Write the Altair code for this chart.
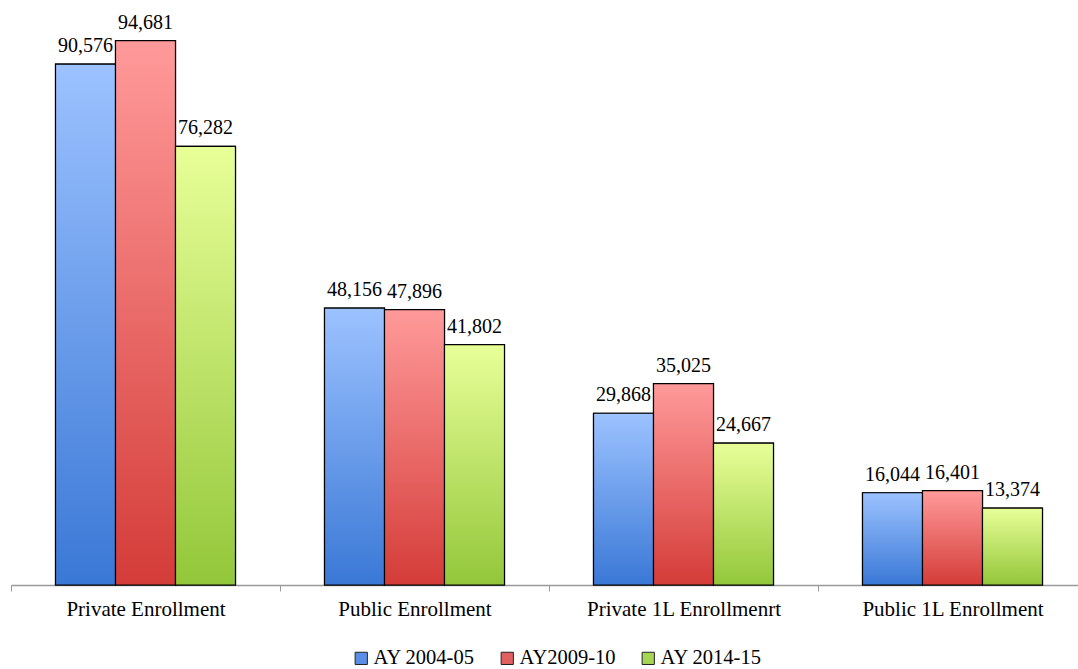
import altair as alt
import pandas as pd

categories = ["Private Enrollment", "Public Enrollment", "Private 1L Enrollmenrt", "Public 1L Enrollment"]
series = ["AY 2004-05", "AY2009-10", "AY 2014-15"]
values_2004 = [90576, 48156, 29868, 16044]
values_2009 = [94681, 47896, 35025, 16401]
values_2014 = [76282, 41802, 24667, 13374]

legend_colors = ["#5b8ee6", "#e06060", "#a6d455"]
grad_top = ["#9cc2ff", "#ff9a9a", "#e8ff98"]
grad_bottom = ["#3a78d6", "#d43c38", "#93c73a"]

rows = []
for s, vals in zip(series, [values_2004, values_2009, values_2014]):
    for c, v in zip(categories, vals):
        rows.append({"category": c, "series": s, "value": v})
df = pd.DataFrame(rows)

FONT = "Liberation Serif"

x_enc = alt.X(
    "category:N",
    sort=categories,
    scale=alt.Scale(domain=categories, range=[0, 1076], paddingInner=0, paddingOuter=0),
    axis=alt.Axis(
        title=None, tickBand="extent", labelAngle=0, labelFont=FONT, labelFontSize=21,
        labelColor="black", domainColor="#9a9a9a", tickColor="#9a9a9a", tickSize=6,
        labelPadding=7, grid=False, domainWidth=1.5, labelLimit=400,
    ),
)
xo_enc = alt.XOffset(
    "series:N",
    scale=alt.Scale(domain=series, range=[0, 269], paddingInner=0, paddingOuter=0.742),
)
y_enc = alt.Y("value:Q", scale=alt.Scale(domain=[0, 100000], nice=False), axis=None)

base = alt.Chart(df).encode(x=x_enc, xOffset=xo_enc, y=y_enc)

legend_bars = base.mark_bar(stroke="black", strokeWidth=1.2).encode(
    color=alt.Color(
        "series:N",
        scale=alt.Scale(domain=series, range=legend_colors),
        legend=alt.Legend(
            title=None, orient="none", legendX=340, legendY=638, direction="horizontal",
            symbolType="square", symbolSize=150, symbolStrokeColor="#222",
            symbolStrokeWidth=1, labelFont=FONT, labelFontSize=20.5, labelColor="black",
            labelOffset=2, columnPadding=22, symbolOpacity=1, labelLimit=300,
        ),
    )
)

layers = [legend_bars]
for s, t, b in zip(series, grad_top, grad_bottom):
    grad = alt.Gradient(
        gradient="linear", x1=0, x2=0, y1=0, y2=1,
        stops=[alt.GradientStop(offset=0, color=t), alt.GradientStop(offset=1, color=b)],
    )
    layers.append(
        base.mark_bar(fill=grad, stroke="black", strokeWidth=1.2).transform_filter(
            alt.datum.series == s
        )
    )

labels = base.mark_text(baseline="bottom", dy=-8, font=FONT, fontSize=20, color="black").encode(
    text=alt.Text("value:Q", format=",")
)
layers.append(labels)

chart = (
    alt.layer(*layers)
    .properties(
        width=1067,
        height=575,
        autosize=alt.AutoSizeParams(type="none"),
        padding={"left": 11, "top": 10, "right": 0, "bottom": 84},
        background="white",
    )
    .configure_view(stroke=None)
)

chart.save("out.html", embed_options={"renderer": "svg", "actions": False})
